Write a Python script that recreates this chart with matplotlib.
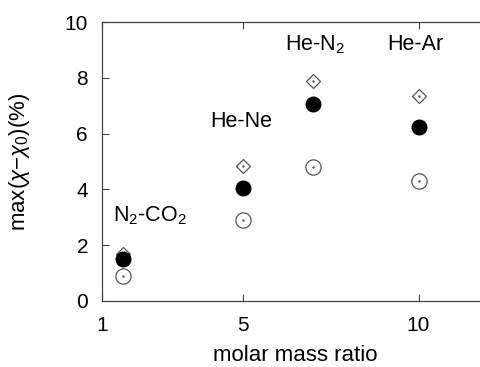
import matplotlib
matplotlib.use('Agg')
import matplotlib.pyplot as plt

plt.rcParams['font.family'] = ['Liberation Sans', 'DejaVu Sans']
plt.rcParams['mathtext.fontset'] = 'custom'
plt.rcParams['mathtext.rm'] = 'Liberation Sans'
plt.rcParams['mathtext.it'] = 'Liberation Sans:italic'

#------data------
mixtures = ['N$_2$-CO$_2$', 'He-Ne', 'He-N$_2$', 'He-Ar']
mass_ratio = [1.6, 5.0, 7.0, 10.0]
diamond_vals = [1.7, 4.85, 7.9, 7.35]
filled_vals = [1.5, 4.05, 7.05, 6.22]
open_vals = [0.9, 2.9, 4.82, 4.3]
label_y = [3.05, 6.45, 9.2, 9.2]
label_dx = [0.76, -0.05, 0.05, -0.1]
xticks = [1, 5, 10]
yticks = [0, 2, 4, 6, 8, 10]

fig = plt.figure(figsize=(4.8, 3.67), dpi=100)
ax = fig.add_axes([0.2125, 0.18, 0.806, 0.76])

grey = '#555555'
ax.plot(mass_ratio, diamond_vals, 'D', ms=7, mfc='white', mec=grey, mew=0.9)
ax.plot(mass_ratio, diamond_vals, '.', ms=1.5, color=grey)
ax.plot(mass_ratio, open_vals, 'o', ms=11, mfc='white', mec=grey, mew=0.9)
ax.plot(mass_ratio, open_vals, '.', ms=1.5, color=grey)
ax.plot(mass_ratio, filled_vals, 'o', ms=10.5, color='black')

for name, x, y, dx in zip(mixtures, mass_ratio, label_y, label_dx):
    ax.text(x + dx, y, name, fontsize=15.5, ha='center', va='center')

ax.set_xlim(1, 12)
ax.set_ylim(0, 10)
ax.set_xticks(xticks)
ax.set_yticks(yticks)
ax.tick_params(direction='in', labelsize=15, length=5, width=0.8,
               top=True, color='#444444')
ax.tick_params(axis='x', pad=11)
ax.tick_params(axis='y', pad=10)
ax.spines['right'].set_visible(False)
for s in ['left', 'bottom', 'top']:
    ax.spines[s].set_color('#444444')
    ax.spines[s].set_linewidth(0.9)

ax.set_xlabel('molar mass ratio', fontsize=16, va='baseline')
ax.set_ylabel(r'max($\chi$$-$$\chi_0$)(%)', fontsize=16)
ax.xaxis.set_label_coords(0.5, -0.215)
ax.yaxis.set_label_coords(-0.18, 0.5)

fig.savefig('out.png', dpi=100)
